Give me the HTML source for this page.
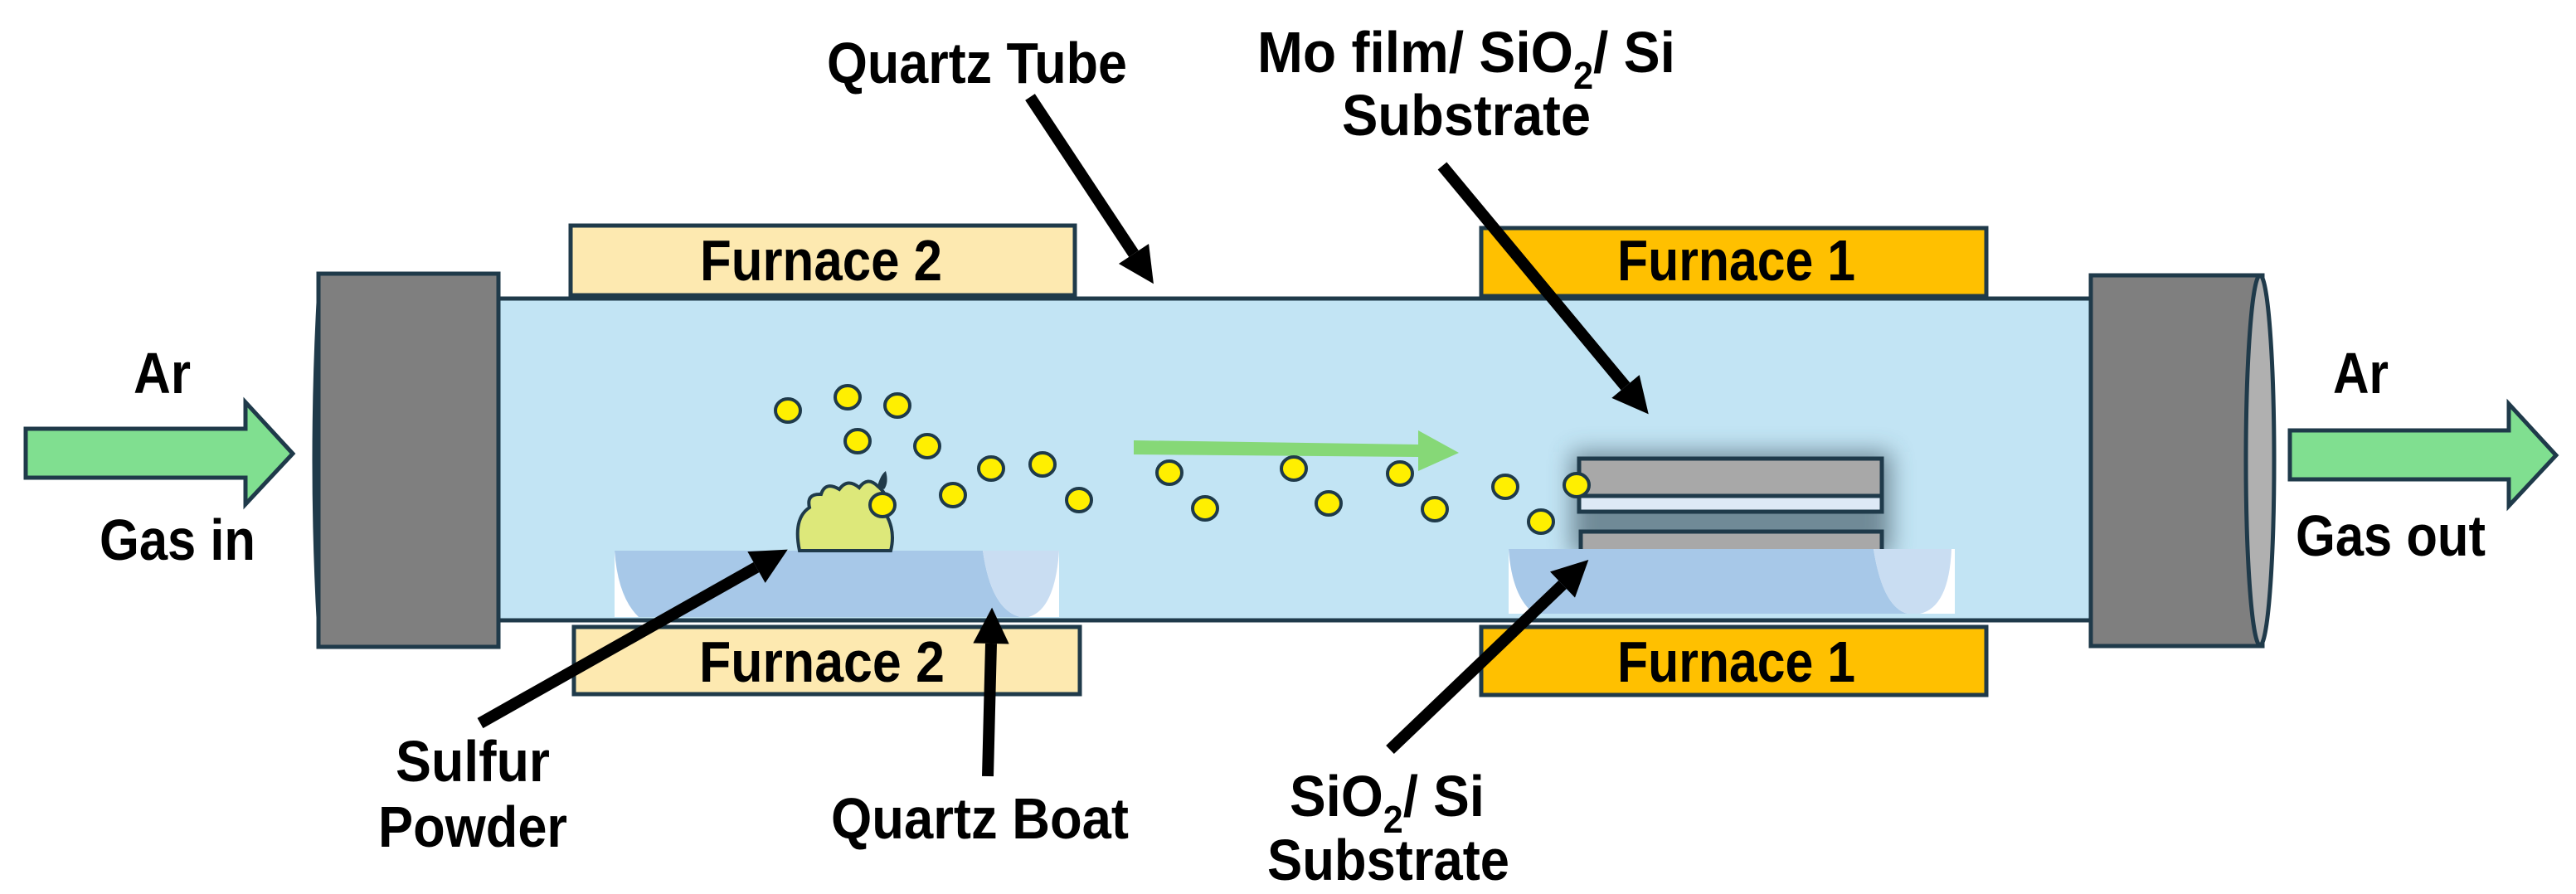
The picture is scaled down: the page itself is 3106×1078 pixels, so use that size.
<!DOCTYPE html>
<html><head><meta charset="utf-8"><style>
html,body{margin:0;padding:0;background:#fff;}
svg{display:block;}
text{font-family:"Liberation Sans",sans-serif;font-weight:bold;fill:#000;}
</style></head><body>
<svg width="3106" height="1078" viewBox="0 0 3106 1078" xmlns="http://www.w3.org/2000/svg">
<defs>
<marker id="ah" viewBox="0 0 10 10" refX="0" refY="5" markerWidth="3.6" markerHeight="3.1" orient="auto" markerUnits="strokeWidth">
<path d="M0,0 L10,5 L0,10 z" fill="#000"/></marker>
<filter id="bl" x="-20%" y="-50%" width="140%" height="200%"><feGaussianBlur stdDeviation="14"/></filter>
</defs>

<rect x="590" y="360" width="1945" height="388" fill="#c2e4f4" stroke="#1f3a4a" stroke-width="5"/>

<rect x="688" y="272" width="608" height="84" fill="#fde9b0" stroke="#1f3a4a" stroke-width="5"/>
<rect x="692" y="756" width="610" height="81" fill="#fde9b0" stroke="#1f3a4a" stroke-width="5"/>
<rect x="1786" y="275" width="609" height="82" fill="#ffc000" stroke="#1f3a4a" stroke-width="5"/>
<rect x="1786" y="756" width="609" height="82" fill="#ffc000" stroke="#1f3a4a" stroke-width="5"/>

<rect x="1895" y="545" width="385" height="125" fill="#3a4f5a" opacity="0.6" filter="url(#bl)"/>
<rect x="1904" y="553" width="365" height="45" fill="#a8a8a8" stroke="#1f3a4a" stroke-width="5"/>
<rect x="1904" y="598" width="365" height="19" fill="#dde9f6" stroke="#1f3a4a" stroke-width="5"/>
<rect x="1906" y="641" width="363" height="40" fill="#a8a8a8" stroke="#1f3a4a" stroke-width="5"/>

<rect x="741" y="664" width="536" height="80" fill="#fff"/>
<path d="M741,664 L1185,664 Q1195,735 1230,744 L770,744 Q745,720 741,664 z" fill="#a7c8e8"/>
<path d="M1185,664 L1277,664 Q1272,735 1240,744 L1230,744 Q1195,735 1185,664 z" fill="#c9ddf2"/>
<rect x="1819" y="662" width="538" height="78" fill="#fff"/>
<path d="M1819,662 L2259,662 Q2270,732 2300,740 L1850,740 Q1823,720 1819,662 z" fill="#a7c8e8"/>
<path d="M2259,662 L2353,662 Q2350,732 2315,740 L2300,740 Q2270,732 2259,662 z" fill="#c9ddf2"/>

<path d="M964,664 Q956,625 976,612 Q972,595 990,596 Q995,580 1012,590 Q1022,576 1036,588 Q1046,574 1058,586 Q1074,598 1068,620 Q1080,640 1074,664 z" fill="#dde87a" stroke="#1f3a4a" stroke-width="4"/>
<path d="M1058,586 Q1062,572 1068,568 Q1072,582 1066,590 z" fill="#1f3a4a"/>

<path d="M386,330 Q372,555 386,780" fill="#b0b0b0" stroke="#1f3a4a" stroke-width="5"/>
<rect x="384" y="330" width="217" height="450" fill="#7f7f7f" stroke="#1f3a4a" stroke-width="5"/>
<rect x="2521" y="332" width="207" height="447" fill="#7f7f7f" stroke="#1f3a4a" stroke-width="5"/>
<ellipse cx="2725" cy="555" rx="17" ry="223" fill="#b0b0b0" stroke="#1f3a4a" stroke-width="5"/>

<polygon points="31,517 296,517 296,485 353,547 296,608 296,576 31,576" fill="#80df90" stroke="#1f3a4a" stroke-width="5"/>
<polygon points="2761,519 3025,519 3025,487 3082,549 3025,610 3025,578 2761,578" fill="#80df90" stroke="#1f3a4a" stroke-width="5"/>
<polygon points="1367,531 1710,536 1710,519 1759,546 1710,568 1710,551 1367,548" fill="#86d877"/>

<g fill="#ffef00" stroke="#1f3a4a" stroke-width="4">
<ellipse cx="950" cy="495" rx="15" ry="14"/><ellipse cx="1022" cy="479" rx="15" ry="14"/>
<ellipse cx="1082" cy="489" rx="15" ry="14"/><ellipse cx="1034" cy="532" rx="15" ry="14"/>
<ellipse cx="1118" cy="538" rx="15" ry="14"/><ellipse cx="1195" cy="565" rx="15" ry="14"/>
<ellipse cx="1257" cy="560" rx="15" ry="14"/><ellipse cx="1149" cy="597" rx="15" ry="14"/>
<ellipse cx="1301" cy="603" rx="15" ry="14"/><ellipse cx="1064" cy="609" rx="15" ry="14"/>
<ellipse cx="1410" cy="570" rx="15" ry="14"/><ellipse cx="1453" cy="613" rx="15" ry="14"/>
<ellipse cx="1560" cy="565" rx="15" ry="14"/><ellipse cx="1602" cy="607" rx="15" ry="14"/>
<ellipse cx="1688" cy="571" rx="15" ry="14"/><ellipse cx="1730" cy="614" rx="15" ry="14"/>
<ellipse cx="1815" cy="587" rx="15" ry="14"/><ellipse cx="1858" cy="629" rx="15" ry="14"/>
<ellipse cx="1901" cy="585" rx="15" ry="14"/>
</g>

<g stroke="#000" stroke-width="14" marker-end="url(#ah)">
<line x1="1242" y1="117" x2="1367" y2="306"/>
<line x1="1739" y1="200" x2="1960" y2="466"/>
<line x1="579" y1="872" x2="912" y2="684"/>
<line x1="1191" y1="936" x2="1195" y2="776"/>
<line x1="1676" y1="904" x2="1884" y2="705"/>
</g>

<g font-size="70">
<text x="997" y="100" textLength="362" lengthAdjust="spacingAndGlyphs">Quartz Tube</text>
<text x="1516" y="87" textLength="504" lengthAdjust="spacingAndGlyphs">Mo film/ SiO<tspan font-size="46" dy="20">2</tspan><tspan dy="-20">/ Si</tspan></text>
<text x="1618" y="163" textLength="300" lengthAdjust="spacingAndGlyphs">Substrate</text>
<text x="844" y="338" textLength="292" lengthAdjust="spacingAndGlyphs">Furnace 2</text>
<text x="843" y="822" textLength="296" lengthAdjust="spacingAndGlyphs">Furnace 2</text>
<text x="1950" y="338" textLength="287" lengthAdjust="spacingAndGlyphs">Furnace 1</text>
<text x="1950" y="822" textLength="287" lengthAdjust="spacingAndGlyphs">Furnace 1</text>
<text x="161" y="474" textLength="69" lengthAdjust="spacingAndGlyphs">Ar</text>
<text x="120" y="675" textLength="188" lengthAdjust="spacingAndGlyphs">Gas in</text>
<text x="2813" y="474" textLength="67" lengthAdjust="spacingAndGlyphs">Ar</text>
<text x="2768" y="670" textLength="229" lengthAdjust="spacingAndGlyphs">Gas out</text>
<text x="477" y="942" textLength="186" lengthAdjust="spacingAndGlyphs">Sulfur</text>
<text x="456" y="1021" textLength="228" lengthAdjust="spacingAndGlyphs">Powder</text>
<text x="1002" y="1011" textLength="359" lengthAdjust="spacingAndGlyphs">Quartz Boat</text>
<text x="1555" y="984" textLength="235" lengthAdjust="spacingAndGlyphs">SiO<tspan font-size="46" dy="20">2</tspan><tspan dy="-20">/ Si</tspan></text>
<text x="1528" y="1061" textLength="292" lengthAdjust="spacingAndGlyphs">Substrate</text>
</g>
</svg>
</body></html>
